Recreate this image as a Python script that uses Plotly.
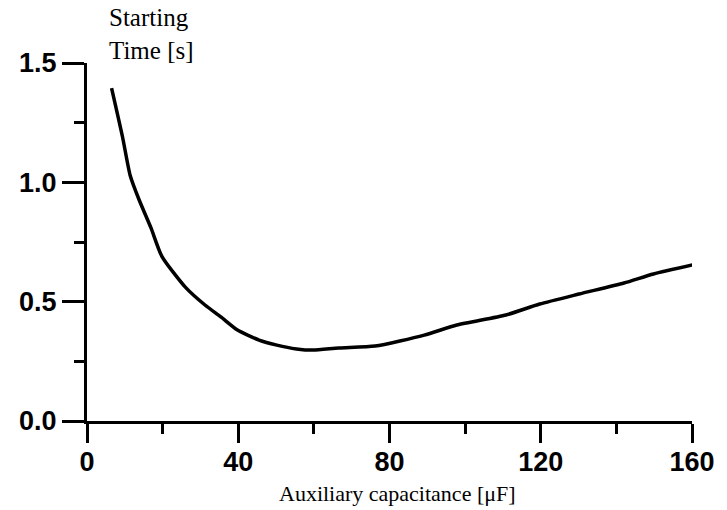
import plotly.graph_objects as go

# Starting time of the motor versus auxiliary capacitance
capacitance_uF = [6.5, 9.4, 11.4, 13.8, 16.9, 19.8, 26.0, 31.2, 35.4, 39.8,
                  45.5, 50.2, 55.4, 59.8, 66.6, 76.2, 89.2, 97.8, 110.8, 119.7,
                  130.1, 142.0, 149.8, 160.2]
starting_time_s = [1.395, 1.19, 1.03, 0.926, 0.81, 0.69, 0.561, 0.486,
                   0.436, 0.381, 0.339, 0.318, 0.302, 0.297, 0.306, 0.314, 0.36,
                   0.402, 0.444, 0.49, 0.532, 0.578, 0.616, 0.654]

x_ticks = [0, 40, 80, 120, 160]
y_ticks = [0.0, 0.5, 1.0, 1.5]
y_tick_text = ["0.0", "0.5", "1.0", "1.5"]

fig = go.Figure()
fig.add_trace(go.Scatter(
    x=capacitance_uF, y=starting_time_s, mode="lines",
    line=dict(color="black", width=3.5, shape="spline", smoothing=0.6),
    cliponaxis=False, showlegend=False, hoverinfo="skip",
))

tick_font = dict(family="Liberation Sans, Arial, sans-serif", size=27,
                 color="black", weight="bold")
serif = "Liberation Serif, Times New Roman, serif"

fig.update_xaxes(
    range=[0, 160], tickmode="array", tickvals=x_ticks,
    ticks="outside", ticklen=19, tickwidth=2.5, tickcolor="black",
    showline=True, linecolor="black", linewidth=2.5,
    showgrid=False, zeroline=False, tickfont=tick_font,
    ticklabelstandoff=-4,
    minor=dict(dtick=20, tick0=0, ticks="outside", ticklen=10, tickwidth=2.5,
               tickcolor="black", showgrid=False),
)
fig.update_yaxes(
    range=[0, 1.5], tickmode="array", tickvals=y_ticks, ticktext=y_tick_text,
    ticks="outside", ticklen=22, tickwidth=2.5, tickcolor="black",
    showline=True, linecolor="black", linewidth=3,
    showgrid=False, zeroline=False, tickfont=tick_font,
    ticklabelstandoff=0,
    minor=dict(dtick=0.25, tick0=0, ticks="outside", ticklen=10, tickwidth=2.5,
               tickcolor="black", showgrid=False),
)

fig.add_annotation(
    text="Starting<br>Time [s]", xref="paper", yref="paper",
    x=0.0325, y=1.17, xanchor="left", yanchor="top", showarrow=False,
    align="left", font=dict(family=serif, size=25, color="black"),
)
fig.add_annotation(
    text="Auxiliary capacitance [\u03bcF]", xref="paper", yref="paper",
    x=0.514, y=-0.162, xanchor="center", yanchor="top", showarrow=False,
    font=dict(family=serif, size=22, color="black"),
)

fig.update_layout(
    width=727, height=510, autosize=False,
    margin=dict(l=87, r=25, t=63, b=89),
    paper_bgcolor="white", plot_bgcolor="white",
)

fig.write_html("out.html")
